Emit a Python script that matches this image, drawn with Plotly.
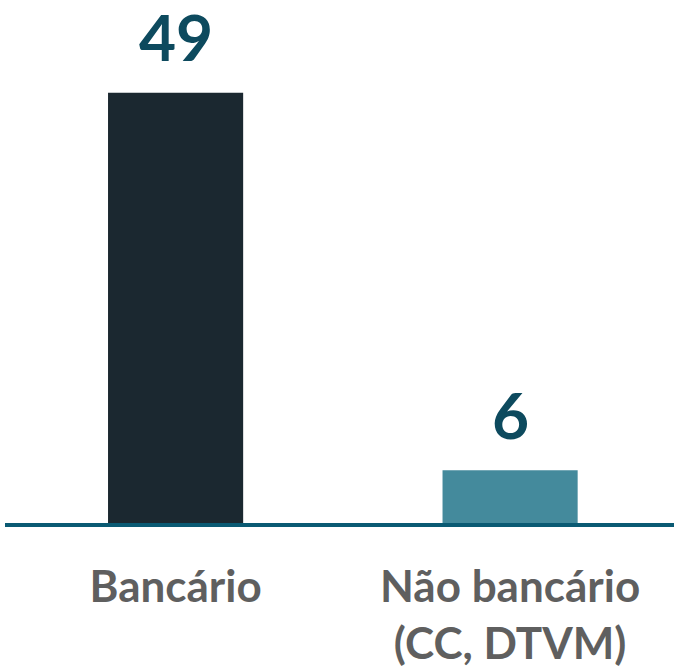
import plotly.graph_objects as go

categories = ["Bancário", "Não bancário<br>(CC, DTVM)"]
values = [49, 6]

bar_colors = ["#1b2830", "#448a9c"]
label_color = "#0d4a5e"
axis_color = "#0a5a73"
tick_color = "#5f5f5f"
font = "Lato, Open Sans, sans-serif"

fig = go.Figure()

fig.add_trace(
    go.Bar(
        x=categories,
        y=values,
        marker=dict(color=bar_colors, line=dict(width=0)),
        hoverinfo="skip",
    )
)

for cat, val in zip(categories, values):
    fig.add_annotation(
        x=cat,
        y=val,
        text=f"<b>{val}</b>",
        showarrow=False,
        yanchor="middle",
        yshift=56,
        font=dict(family=font, size=64, color=label_color),
    )

fig.update_layout(
    width=674,
    height=666,
    margin=dict(l=5, r=0, t=40, b=143),
    paper_bgcolor="white",
    plot_bgcolor="white",
    bargap=0.596,
    showlegend=False,
    xaxis=dict(
        range=[-0.51, 1.49],
        automargin=False,
        showline=True,
        linecolor=axis_color,
        linewidth=4,
        showgrid=False,
        zeroline=False,
        ticks="",
        ticklabelstandoff=22,
        tickfont=dict(family=font, size=44, color=tick_color, weight="bold"),
    ),
    yaxis=dict(
        range=[0, 55],
        automargin=False,
        visible=False,
        showgrid=False,
        zeroline=False,
    ),
)

# drop the browser's default body margin so the figure sits at the page corner
fig.write_html(
    "out.html",
    config={"displayModeBar": False},
    post_script="document.body.style.margin='0';document.body.style.overflow='hidden';",
)
